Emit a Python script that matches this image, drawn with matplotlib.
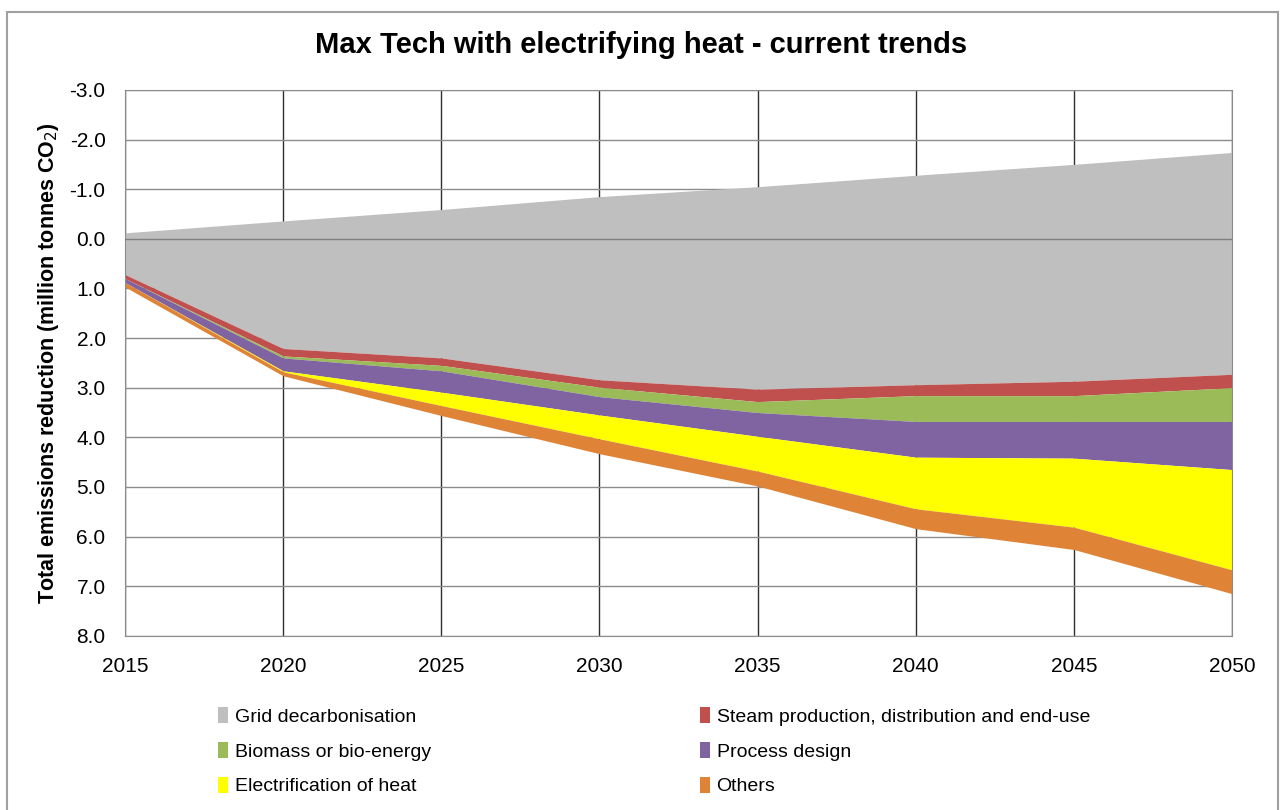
import numpy as np
import matplotlib
matplotlib.use('Agg')
import matplotlib.pyplot as plt
from matplotlib.patches import Patch, Rectangle

plt.rcParams['font.family'] = ['Liberation Sans', 'DejaVu Sans']

# Data (million tonnes CO2, stacked thicknesses)
years           = [2015, 2020, 2025, 2030, 2035, 2040, 2045, 2050]
grid_start      = [-0.12, -0.36, -0.59, -0.85, -1.05, -1.28, -1.50, -1.74]
grid            = [0.84, 2.57, 2.99, 3.69, 4.08, 4.22, 4.37, 4.47]
steam           = [0.08, 0.15, 0.15, 0.15, 0.25, 0.22, 0.29, 0.27]
biomass         = [0.00, 0.04, 0.11, 0.19, 0.22, 0.52, 0.52, 0.68]
process         = [0.08, 0.26, 0.43, 0.37, 0.48, 0.72, 0.74, 0.97]
electrification = [0.00, 0.02, 0.27, 0.48, 0.70, 1.04, 1.39, 2.02]
others          = [0.09, 0.08, 0.20, 0.30, 0.30, 0.40, 0.45, 0.48]

labels = ['Grid decarbonisation', 'Steam production, distribution and end-use',
          'Biomass or bio-energy', 'Process design',
          'Electrification of heat', 'Others']
colors = ['#BFBFBF', '#C0504D', '#9BBB59', '#8064A2', '#FFFF00', '#DF8436']
series = [grid, steam, biomass, process, electrification, others]

fig = plt.figure(figsize=(12.82, 8.10), dpi=100, facecolor='w')
ax = fig.add_axes([0.0975, 0.215, 0.8635, 0.674])

# chart-area border
fig.patches.append(Rectangle((0.0055, -0.02), 0.9915, 1.005, transform=fig.transFigure,
                             fill=False, edgecolor='#A0A0A0', linewidth=1.5))

base = np.array(grid_start, dtype=float)
for vals, col in zip(series, colors):
    top = base + np.array(vals)
    ax.fill_between(years, base, top, color=col, linewidth=0, zorder=2)
    base = top

ax.axhline(0, color='#7F7F7F', linewidth=1.0, zorder=3)

ax.set_xlim(2015, 2050)
ax.set_ylim(8.0, -3.0)
ax.set_xticks(years)
ax.set_yticks(np.arange(-3, 8.01, 1.0))
ax.set_yticklabels(['%.1f' % v for v in np.arange(-3, 8.01, 1.0)])
ax.yaxis.grid(True, color='#8C8C8C', linewidth=1.0, zorder=0)
ax.xaxis.grid(True, color='#303030', linewidth=1.0, zorder=0)
ax.set_axisbelow(True)
for s in ax.spines.values():
    s.set_color('#8C8C8C')
ax.tick_params(length=0, labelsize=15)
ax.tick_params(axis='x', pad=15)
ax.tick_params(axis='y', pad=14)

ax.set_ylabel('Total emissions reduction (million tonnes CO$_2$)', fontsize=15.5,
              fontweight='bold', labelpad=6)
fig.text(0.5, 0.944, 'Max Tech with electrifying heat - current trends',
         ha='center', va='center', fontsize=21, fontweight='bold')

handles = [Patch(facecolor=c, edgecolor='none') for c in colors]
leg_kw = dict(loc='upper left', frameon=False, fontsize=14, handlelength=0.5,
              handleheight=0.9, handletextpad=0.35, labelspacing=0.82,
              borderpad=0, borderaxespad=0)
fig.legend([handles[i] for i in (0, 2, 4)], [labels[i] for i in (0, 2, 4)],
           bbox_to_anchor=(218 / 1282, 0.127), **leg_kw)
fig.legend([handles[i] for i in (1, 3, 5)], [labels[i] for i in (1, 3, 5)],
           bbox_to_anchor=(700 / 1282, 0.127), **leg_kw)

fig.savefig('out.png', dpi=100, facecolor='w')
